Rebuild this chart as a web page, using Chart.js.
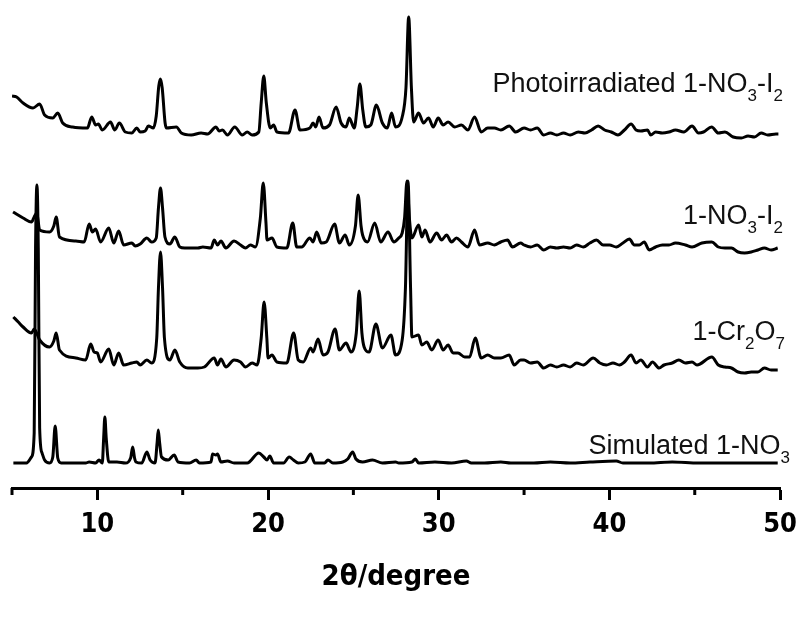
<!DOCTYPE html>
<html>
<head>
<meta charset="utf-8">
<script src="https://cdn.jsdelivr.net/npm/chart.js@4/dist/chart.umd.min.js"></script>
<style>
  body { margin: 0; background: #fff; }
  #wrap { width: 806px; height: 622px; }
</style>
</head>
<body>
<div id="wrap"><canvas id="xrd"></canvas></div>
<script>
// Patterns are stacked, values in a.u. (offsets already included)
const seriesNames = ['Photoirradiated 1-NO3-I2', '1-NO3-I2', '1-Cr2O7', 'Simulated 1-NO3'];
const tickValues = [5, 10, 15, 20, 25, 30, 35, 40, 45, 50];

// Photoirradiated 1-NO3-I2
const photoX = [5.0,5.27,5.65,6.23,6.62,6.91,7.39,7.68,7.97,8.55,9.42,9.67,9.9,10.06,10.29,10.77,11.02,11.29,11.64,12.02,12.31,12.51,12.8,12.99,13.28,13.45,13.6,13.7,13.8,13.97,14.05,14.63,14.92,15.5,16.08,16.46,16.95,17.14,17.33,17.62,18.05,18.49,18.78,19.07,19.46,19.6,19.75,19.9,20.13,20.33,20.52,21.2,21.58,21.87,22.45,22.64,22.79,22.99,23.22,23.6,23.99,24.28,24.57,24.76,25.05,25.22,25.38,25.55,25.73,26.02,26.35,26.7,26.99,27.24,27.47,27.86,28.08,28.24,28.4,28.53,28.82,29.11,29.4,29.68,29.97,30.26,30.55,30.94,31.33,31.71,32.1,32.49,32.87,33.26,33.64,34.13,34.51,35.0,35.38,35.77,36.15,36.54,36.92,37.31,37.7,38.18,38.57,38.95,39.34,39.72,40.11,40.5,40.88,41.27,41.56,41.84,42.23,42.42,42.71,43.1,43.49,43.87,44.36,44.84,45.22,45.51,45.99,46.38,46.77,47.25,47.73,48.12,48.5,48.89,49.28,49.76,49.9];
const photoY = [392,391,385,380,384,373,370,375,365,361,360,371,363,364,358,366,358,365,356,355,360,356,357,362,360,372,402,409,400,365,360,361,355,353,355,354,361,357,358,353,361,353,356,353,356,385,412,385,360,363,356,355,378,358,360,365,361,371,360,363,381,365,361,370,360,380,404,378,361,363,383,365,360,375,361,371,400,471,400,366,375,365,370,361,370,363,366,361,363,358,371,356,360,360,358,362,356,360,358,360,353,355,353,355,353,356,355,358,362,358,356,353,358,364,358,357,358,353,356,355,356,358,356,362,355,356,361,355,356,351,350,352,351,355,353,354,354];

// 1-NO3-I2
const iodX = [5.06,5.65,6.14,6.3,6.45,6.62,7.2,7.45,7.59,7.78,8.74,9.23,9.52,9.71,9.9,10.19,10.67,10.96,11.25,11.54,12.02,12.22,12.51,12.9,13.18,13.45,13.58,13.7,13.82,13.96,14.25,14.54,14.83,15.12,15.89,16.18,16.66,16.85,17.04,17.24,17.53,18.01,18.39,18.68,18.97,19.26,19.55,19.72,19.88,19.94,20.23,20.52,21.1,21.45,21.68,21.97,22.45,22.64,22.85,23.12,23.41,23.9,24.18,24.52,24.76,25.12,25.28,25.45,25.54,25.83,26.25,26.6,27.03,27.37,27.66,27.86,28.0,28.14,28.28,28.43,28.82,29.01,29.2,29.49,29.88,30.17,30.46,30.75,31.04,31.33,31.71,32.1,32.39,32.87,33.26,33.64,34.03,34.32,34.8,35.0,35.38,35.77,36.15,36.54,36.92,37.31,37.7,38.08,38.47,38.86,39.24,39.63,40.01,40.4,40.79,41.17,41.46,41.75,42.04,42.33,42.71,43.1,43.49,43.87,44.45,44.84,45.42,46.0,46.38,46.77,47.15,47.54,47.92,48.31,48.7,49.08,49.47,49.86];
const iodY = [276,270,266,271,275,258,256,262,271,251,247,246,264,256,259,246,260,245,257,243,245,242,244,250,246,250,280,300,280,251,244,251,241,240,240,241,240,248,243,247,240,247,243,240,243,241,270,305,265,248,250,241,240,265,241,241,250,246,256,245,246,264,245,253,243,262,293,262,253,246,265,246,256,246,250,255,270,307,270,250,263,251,258,246,255,248,253,246,250,246,241,258,243,245,243,246,248,241,245,243,241,243,238,241,240,241,240,243,241,245,248,243,243,241,245,249,243,243,246,238,241,243,243,245,243,241,245,246,241,240,240,236,235,236,238,240,238,240];

// 1-Cr2O7
const crX = [5.08,5.37,5.65,6.14,6.3,6.62,7.2,7.45,7.59,7.78,8.74,9.32,9.61,9.81,10.0,10.19,10.67,10.96,11.25,11.54,12.02,12.31,12.51,12.9,13.18,13.48,13.58,13.7,13.82,13.93,14.25,14.54,14.83,15.3,15.89,16.27,16.85,17.04,17.24,17.53,18.01,18.39,18.68,19.07,19.36,19.6,19.77,19.93,20.0,20.23,20.52,21.1,21.5,21.77,22.06,22.5,22.64,22.93,23.22,23.51,23.93,24.18,24.57,24.86,25.17,25.34,25.5,25.63,25.92,26.32,26.7,27.2,27.47,27.86,28.05,28.2,28.35,28.43,28.82,29.01,29.3,29.59,29.97,30.26,30.55,30.84,31.13,31.52,31.81,32.14,32.49,32.87,33.26,33.64,34.13,34.42,34.8,35.0,35.38,35.77,36.15,36.54,36.92,37.31,37.7,38.08,38.47,39.05,39.44,39.82,40.21,40.59,40.88,41.27,41.56,41.84,42.23,42.52,42.91,43.2,43.68,44.07,44.45,44.84,45.13,46.0,46.38,46.77,47.15,47.54,47.92,48.31,48.7,49.08,49.47,49.86];
const crY = [171,166,161,155,159,148,141,147,155,138,130,128,144,136,135,126,139,123,135,123,125,126,123,128,125,150,200,236,200,150,128,138,126,120,120,121,130,123,129,121,128,126,121,125,123,150,186,150,130,133,126,125,155,128,126,140,136,149,133,136,159,138,145,136,155,197,155,141,136,164,140,153,133,148,200,307,200,151,153,143,146,138,148,138,143,135,135,131,131,150,130,133,130,130,133,123,128,128,125,126,120,123,121,123,121,125,123,130,125,123,125,123,126,133,125,128,121,126,120,123,125,128,125,126,123,131,123,121,120,116,115,116,116,120,118,118];

// Simulated 1-NO3
const simX = [5.08,5.85,6.14,6.3,6.38,6.46,6.54,6.62,6.76,6.91,7.2,7.39,7.53,7.68,7.88,9.32,9.52,9.9,10.1,10.29,10.37,10.44,10.52,10.67,11.15,11.64,11.95,12.07,12.18,12.26,12.6,12.9,13.09,13.38,13.5,13.57,13.65,13.76,14.15,14.5,14.73,15.4,15.79,15.98,16.66,16.75,16.95,17.04,17.24,17.62,18.01,18.78,19.46,19.75,19.94,20.1,20.33,20.91,21.24,21.49,21.77,22.16,22.5,22.74,23.31,23.51,23.8,24.38,24.67,24.96,25.15,25.54,26.12,26.7,27.47,27.66,28.43,28.63,28.82,29.78,30.75,31.62,31.91,32.68,33.64,34.22,35.57,36.54,37.7,38.86,40.4,40.79,42.33,43.68,45.23,47.15,48.5,49.86];
const simY = [25,25,31,55,240,303,240,60,35,28,25,31,62,30,25,25,26,25,28,25,50,71,50,26,26,25,30,41,30,26,25,36,28,25,45,58,45,31,28,33,26,25,28,25,26,34,33,34,26,27,25,25,35,31,28,32,25,25,31,28,25,26,34,25,25,28,25,26,29,36,29,26,28,25,26,25,26,29,25,26,25,27,25,25,26,25,25,26,25,26,27,25,25,26,25,25,25,25];

// Label text with subscripts (main / sub parts)
const labelParts = [
    [['Photoirradiated 1-NO'], ['3', 1], ['-I'], ['2', 1]],
    [['1-NO'], ['3', 1], ['-I'], ['2', 1]],
    [['1-Cr'], ['2', 1], ['O'], ['7', 1]],
    [['Simulated 1-NO'], ['3', 1]]
];

function toPoints(xs, ys) {
    return xs.map(function (x, i) { return { x: x, y: ys[i] }; });
}

const narrowBold = "'DejaVu Sans Condensed', 'Liberation Sans', Arial, sans-serif";
const labelFont = "'Liberation Sans', Arial, sans-serif";

// minor ticks (5, 15, ...) drawn shorter than the major ones
const minorTicks = {
    id: 'minorTicks',
    afterDraw: function (chart) {
        const ctx = chart.ctx, xs = chart.scales.x, y0 = chart.chartArea.bottom;
        ctx.save();
        ctx.strokeStyle = '#000';
        ctx.lineWidth = 3;
        tickValues.filter(v => v % 10 !== 0).forEach(function (v) {
            const px = xs.getPixelForValue(v);
            ctx.beginPath();
            ctx.moveTo(px, y0);
            ctx.lineTo(px, y0 + 7);
            ctx.stroke();
        });
        ctx.restore();
    }
};

// pattern names at the right side
const traceLabels = {
    id: 'traceLabels',
    afterDraw: function (chart) {
        const ctx = chart.ctx;
        const spots = [[783, 92], [783, 224], [785, 340], [790, 454]];
        ctx.save();
        ctx.fillStyle = '#111';
        ctx.textBaseline = 'alphabetic';
        labelParts.forEach(function (parts, k) {
            let w = 0;
            parts.forEach(function (p) {
                ctx.font = (p[1] ? '17px ' : '27px ') + labelFont;
                w += ctx.measureText(p[0]).width;
            });
            let x = spots[k][0] - w;
            parts.forEach(function (p) {
                ctx.font = (p[1] ? '17px ' : '27px ') + labelFont;
                ctx.fillText(p[0], x, spots[k][1] + (p[1] ? 9 : 0));
                x += ctx.measureText(p[0]).width;
            });
        });
        ctx.restore();
    }
};

const lineStyle = {
    borderColor: '#000', borderWidth: 3, pointRadius: 0,
    cubicInterpolationMode: 'monotone', fill: false, borderJoinStyle: 'round'
};

const data = {
    datasets: [
        Object.assign({ label: seriesNames[0], data: toPoints(photoX, photoY) }, lineStyle),
        Object.assign({ label: seriesNames[1], data: toPoints(iodX, iodY) }, lineStyle),
        Object.assign({ label: seriesNames[2], data: toPoints(crX, crY) }, lineStyle),
        Object.assign({ label: seriesNames[3], data: toPoints(simX, simY) }, lineStyle)
    ]
};

const config = {
    type: 'line',
    data: data,
    options: {
        responsive: true,
        maintainAspectRatio: false,
        animation: false,
        devicePixelRatio: 1,
        layout: { padding: { left: 12, right: 17, top: 0, bottom: 0 } },
        plugins: { legend: { display: false }, tooltip: { enabled: false } },
        scales: {
            x: {
                type: 'linear',
                min: 5,
                max: 50,
                afterBuildTicks: function (s) { s.ticks = tickValues.map(v => ({ value: v })); },
                afterFit: function (s) { s.height = 134; },
                border: { display: true, color: '#000', width: 3 },
                grid: {
                    drawOnChartArea: false,
                    drawTicks: true,
                    tickLength: 12,
                    tickWidth: 3,
                    tickColor: c => (c.tick && c.tick.value % 10 === 0) ? '#000' : 'rgba(0,0,0,0)'
                },
                ticks: {
                    color: '#000',
                    padding: 9,
                    maxRotation: 0,
                    autoSkip: false,
                    font: { family: narrowBold, size: 27, weight: 'bold' },
                    callback: v => (v % 10 === 0 ? v : '')
                },
                title: {
                    display: true,
                    text: '2θ/degree',
                    color: '#000',
                    font: { family: narrowBold, size: 29, weight: 'bold' },
                    padding: { top: 0, bottom: 27 }
                }
            },
            y: { display: false, min: 0, max: 488 }
        }
    },
    plugins: [minorTicks, traceLabels]
};

new Chart(document.getElementById('xrd'), config);
</script>
</body>
</html>
